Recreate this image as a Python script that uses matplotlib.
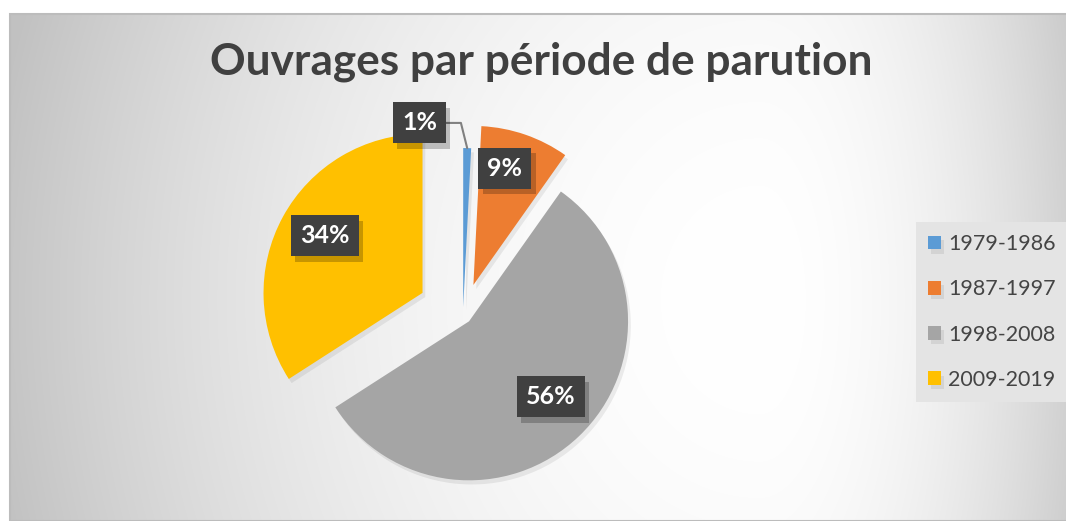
import numpy as np
import matplotlib
matplotlib.use("Agg")
import matplotlib.pyplot as plt
import matplotlib.patheffects as pe
from matplotlib.patches import Rectangle

# ---- data ----
categories = ["1979-1986", "1987-1997", "1998-2008", "2009-2019"]
values = [0.8, 9.0, 56.1, 34.1]
colors = ["#5B9BD5", "#ED7D31", "#A5A5A5", "#FFC000"]
explode = [0.05, 0.20, 0.055, 0.29]   # fraction of radius
title = "Ouvrages par période de parution"

# label placement (fraction of radius, angle offset in degrees)
label_dist = [1.19, 0.76, 0.70, 0.71]
label_dang = [14.75, 4.0, 3.5, -1.7]

W, H = 1066, 521
fig = plt.figure(figsize=(W / 100, H / 100), dpi=100)
fig.patch.set_facecolor("white")
ax = fig.add_axes([0, 0, 1, 1])

# ---- background radial gradient (chart area) ----
x0, y0 = 10, 14
xs = np.arange(x0, W) + 0.5
ys = np.arange(y0, H) + 0.5
cx, cy = 760, 300
X, Y = np.meshgrid(xs, ys)
dx = (X - cx) / np.where(X < cx, 780.0, 360.0)
dy = (Y - cy) / 900.0
d2 = np.clip(dx ** 2 + dy ** 2, 0, 1)
v = (255 - 62 * d2) / 255.0
img = np.dstack([v, v, v])
ax.imshow(img, extent=[x0, W, 0, H - y0], origin="upper", zorder=0,
          interpolation="bilinear", aspect="auto")
ax.add_patch(Rectangle((x0, 0), W - x0 + 5, H - y0, fill=False,
                       edgecolor="#bcbcbc", lw=1.5, zorder=1))

# ---- pie ----
center = (463, H - 315)
radius = 159
wedges, _ = ax.pie(values, colors=colors, startangle=90, counterclock=False,
                   explode=[e * radius for e in explode], center=center,
                   radius=radius, frame=True, wedgeprops=dict(linewidth=0, zorder=3))
for w in wedges:
    w.set_path_effects([pe.SimplePatchShadow(offset=(2, -3), shadow_rgbFace="black",
                                             alpha=0.07), pe.Normal()])

# ---- data labels ----
box_fx = [pe.withSimplePatchShadow(offset=(3, -4), shadow_rgbFace="black", alpha=0.22)]
for i, w in enumerate(wedges):
    mid = np.deg2rad((w.theta1 + w.theta2) / 2 + label_dang[i])
    wx, wy = w.center
    lx = wx + label_dist[i] * radius * np.cos(mid)
    ly = wy + label_dist[i] * radius * np.sin(mid)
    txt = f"{round(values[i])}%"
    bbox = dict(boxstyle="square,pad=0.36", facecolor="#404040", edgecolor="none")
    if label_dist[i] > 1:
        m0 = np.deg2rad((w.theta1 + w.theta2) / 2)
        tip = (wx + radius * np.cos(m0), wy + radius * np.sin(m0))
        t = ax.annotate(txt, xy=tip, xytext=(lx, ly), ha="center", va="center",
                        fontsize=18, fontweight="bold", family="Lato", color="white",
                        bbox=bbox, zorder=6,
                        arrowprops=dict(arrowstyle="-", color="#808080", lw=1.5,
                                        shrinkA=0, shrinkB=0, relpos=(1, 0.5),
                                        connectionstyle="angle,angleA=0,angleB=104,rad=0"))
    else:
        t = ax.text(lx, ly, txt, ha="center", va="center", fontsize=18,
                    fontweight="bold", family="Lato", color="white", bbox=bbox, zorder=6)
    t.get_bbox_patch().set_path_effects(box_fx)

# ---- title ----
ax.text(541, H - 74, title, ha="center", va="baseline", fontsize=31.8,
        fontweight="bold", family="Lato", color="#404040", zorder=7)

# ---- legend ----
leg = ax.legend(wedges, categories, loc="center left",
                bbox_to_anchor=(916 / W, 1 - 312 / H), bbox_transform=fig.transFigure,
                frameon=True, fancybox=False, framealpha=1, facecolor="#e4e4e4",
                edgecolor="none", prop=dict(family="Lato", size=15.5),
                labelcolor="#444444", handlelength=0.6, handleheight=0.6,
                handletextpad=0.33, labelspacing=1.17, borderpad=0.55, borderaxespad=0)
leg.set_zorder(8)

ax.set_xlim(0, W)
ax.set_ylim(0, H)
ax.set_aspect("auto")
ax.axis("off")
fig.savefig("out.png", dpi=100, facecolor="white")
